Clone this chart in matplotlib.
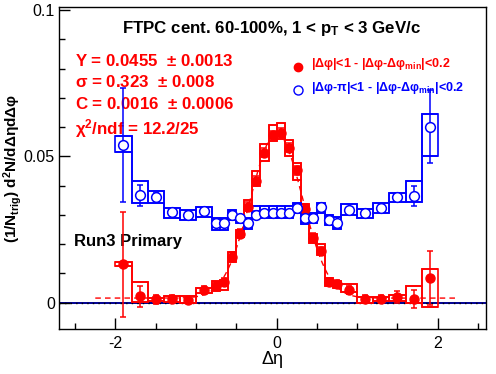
import numpy as np
import matplotlib
matplotlib.use('Agg')
import matplotlib.pyplot as plt
from matplotlib.patches import Rectangle

plt.rcParams['font.family'] = ['Liberation Sans', 'DejaVu Sans']
plt.rcParams['mathtext.default'] = 'regular'

# bin layout (delta eta)
bin_edges = [-2.0, -1.8, -1.6, -1.4, -1.2, -1.0, -0.8, -0.7, -0.6, -0.5, -0.4, -0.3,
             -0.2, -0.1, 0.0, 0.1, 0.2, 0.3, 0.4, 0.5, 0.6, 0.7, 0.8, 1.0, 1.2, 1.4,
             1.6, 1.8, 2.0]
eta = [-1.9, -1.7, -1.5, -1.3, -1.1, -0.9, -0.75, -0.65, -0.55, -0.45, -0.35, -0.25,
       -0.15, -0.05, 0.05, 0.15, 0.25, 0.35, 0.45, 0.55, 0.65, 0.75, 0.9, 1.1, 1.3,
       1.5, 1.7, 1.9]

# near side (red)
near_val = [0.0131, 0.0022, 0.0012, 0.0012, 0.0008, 0.0043, 0.0058, 0.0070, 0.0157,
            0.0236, 0.0328, 0.0417, 0.0513, 0.0573, 0.0581, 0.0530, 0.0452, 0.0322,
            0.0222, 0.0177, 0.0072, 0.0064, 0.0043, 0.0013, 0.0013, 0.0020, 0.0013,
            0.0084]
near_err = [0.018, 0.0035, 0.0015, 0.0013, 0.0010, 0.0013, 0.0013, 0.0013, 0.0015,
            0.0015, 0.0015, 0.0015, 0.0015, 0.0015, 0.0015, 0.0015, 0.0015, 0.0015,
            0.0015, 0.0015, 0.0013, 0.0013, 0.0013, 0.0012, 0.0015, 0.0020, 0.0030,
            0.0093]
near_sys_lo = [0.0125, 0.0003, 0.0005, 0.0004, -0.0002, 0.0032, 0.0040, 0.0043, 0.0140,
               0.0223, 0.0316, 0.0398, 0.0486, 0.0551, 0.0560, 0.0501, 0.0420, 0.0305,
               0.0204, 0.0163, 0.0057, 0.0050, 0.0038, 0.0000, 0.0007, 0.0007, 0.0000,
               -0.0016]
near_sys_hi = [0.0138, 0.0072, 0.0016, 0.0022, 0.0023, 0.0049, 0.0075, 0.0077, 0.0174,
               0.0250, 0.0350, 0.0450, 0.0541, 0.0606, 0.0615, 0.0557, 0.0478, 0.0339,
               0.0236, 0.0200, 0.0083, 0.0075, 0.0064, 0.0020, 0.0020, 0.0026, 0.0057,
               0.0114]

# away side (blue)
away_val = [0.0540, 0.0367, 0.0363, 0.0309, 0.0300, 0.0313, 0.0271, 0.0272, 0.0301,
            0.0288, 0.0274, 0.0301, 0.0305, 0.0305, 0.0305, 0.0305, 0.0325, 0.0288,
            0.0288, 0.0326, 0.0282, 0.0271, 0.0316, 0.0307, 0.0324, 0.0361, 0.0364,
            0.0602]
away_err = [0.0195, 0.0035, 0.0013, 0.0012, 0.0012, 0.0012, 0.0013, 0.0013, 0.0012,
            0.0012, 0.0012, 0.0012, 0.0012, 0.0012, 0.0012, 0.0012, 0.0012, 0.0012,
            0.0012, 0.0012, 0.0013, 0.0013, 0.0012, 0.0012, 0.0012, 0.0015, 0.0035,
            0.0125]
away_sys_lo = [0.0515, 0.0342, 0.0342, 0.0290, 0.0282, 0.0293, 0.0248, 0.0248, 0.0284,
               0.0273, 0.0253, 0.0290, 0.0290, 0.0290, 0.0290, 0.0290, 0.0305, 0.0268,
               0.0273, 0.0307, 0.0265, 0.0253, 0.0299, 0.0288, 0.0305, 0.0344, 0.0344,
               0.0500]
away_sys_hi = [0.0568, 0.0416, 0.0382, 0.0325, 0.0318, 0.0327, 0.0290, 0.0288, 0.0318,
               0.0293, 0.0288, 0.0330, 0.0330, 0.0330, 0.0330, 0.0330, 0.0341, 0.0305,
               0.0305, 0.0342, 0.0299, 0.0293, 0.0339, 0.0322, 0.0342, 0.0376, 0.0415,
               0.0645]

# gaussian fit parameters shown on the plot
fit_Y, fit_sigma, fit_C = 0.0455, 0.323, 0.0016
fit_range = (-2.25, 2.25)

fig = plt.figure(figsize=(4.96, 3.74), dpi=100)
ax = fig.add_axes([0.119, 0.120, 0.861, 0.861])


def draw_sys(lo, hi, color):
    edges = np.array(bin_edges)
    for i in range(len(lo)):
        ax.add_patch(Rectangle((edges[i], lo[i]), edges[i + 1] - edges[i], hi[i] - lo[i],
                               fill=False, edgecolor=color, lw=1.2, zorder=2))
    ax.stairs(hi, edges, baseline=None, color=color, lw=1.2, zorder=2)
    ax.stairs(lo, edges, baseline=None, color=color, lw=1.2, zorder=2)


draw_sys(near_sys_lo, near_sys_hi, 'red')
draw_sys(away_sys_lo, away_sys_hi, 'blue')

# zero line
ax.axhline(0, color='#000090', lw=1.4, zorder=1)
ax.axhline(0, color='black', lw=1.0, ls=(0, (1, 3)), zorder=1)

# fit curve
xf = np.linspace(fit_range[0], fit_range[1], 600)
yf = fit_Y / (np.sqrt(2 * np.pi) * fit_sigma) * np.exp(-xf**2 / (2 * fit_sigma**2)) + fit_C
ax.plot(xf, yf, color='red', lw=1.0, ls=(0, (4, 3)), zorder=3)

ax.errorbar(eta, near_val, yerr=near_err, fmt='o', color='red', ms=6.5, mfc='red',
            mec='red', elinewidth=1.1, capsize=2.5, capthick=1.1, zorder=4)
ax.errorbar(eta, away_val, yerr=away_err, fmt='o', color='blue', ms=7, mfc='white',
            mec='blue', mew=1.1, elinewidth=1.1, capsize=2.5, capthick=1.1, zorder=4)

ax.set_xlim(-2.7, 2.6)
ax.set_ylim(-0.009, 0.101)
ax.set_xticks([-2, 0, 2])
ax.set_xticklabels(['-2', '0', '2'])
ax.set_xticks([-2.5, -1.5, -1, -0.5, 0.5, 1, 1.5, 2.5], minor=True)
ax.set_yticks([0, 0.05, 0.1])
ax.set_yticklabels(['0', '0.05', '0.1'])
ax.set_yticks([0.01, 0.02, 0.03, 0.04, 0.06, 0.07, 0.08, 0.09], minor=True)
ax.tick_params(which='both', direction='in', top=False, right=False, labelsize=11.5,
               width=1.0)
ax.tick_params(axis='x', pad=5)
ax.tick_params(axis='y', pad=3)
ax.tick_params(which='major', length=8)
ax.tick_params(which='minor', length=4)
for s in ax.spines.values():
    s.set_linewidth(1.0)

ax.set_xlabel('Δη', fontsize=13)
ax.xaxis.set_label_coords(0.5, -0.068)
ax.set_ylabel('(1/N$_{trig}$) d$^{2}$N/dΔηdΔφ', fontsize=11, fontweight='bold')
ax.yaxis.set_label_coords(-0.083, 0.5)

ax.text(0.497, 0.935, 'FTPC cent. 60-100%, 1 < p$_{T}$ < 3 GeV/c', transform=ax.transAxes,
        ha='center', va='center', fontsize=12.2, fontweight='bold')

fit_lines = ['Y = 0.0455  $\\pm$ 0.0013', 'σ = 0.323  $\\pm$ 0.008',
             'C = 0.0016  $\\pm$ 0.0006', 'χ$^{2}$/ndf = 12.2/25']
for txt, yy in zip(fit_lines, [0.832, 0.767, 0.699, 0.624]):
    ax.text(0.037, yy, txt, transform=ax.transAxes, ha='left', va='center',
            fontsize=12.2, fontweight='bold', color='red')

ax.text(0.035, 0.272, 'Run3 Primary', transform=ax.transAxes, ha='left', va='center',
        fontsize=12, fontweight='bold', color='black')

# legend
ax.plot([0.559], [0.814], 'o', color='red', ms=6, transform=ax.transAxes)
ax.plot([0.559], [0.742], 'o', mfc='white', mec='blue', mew=1.0, ms=6.5,
        transform=ax.transAxes)
ax.text(0.590, 0.822, '|Δφ|<1 - |Δφ-Δφ$_{min}$|<0.2', transform=ax.transAxes,
        ha='left', va='center', fontsize=9, fontweight='bold', color='red')
ax.text(0.590, 0.750, '|Δφ-π|<1 - |Δφ-Δφ$_{min}$|<0.2', transform=ax.transAxes,
        ha='left', va='center', fontsize=9, fontweight='bold', color='blue')

fig.savefig('out.png', dpi=100)
